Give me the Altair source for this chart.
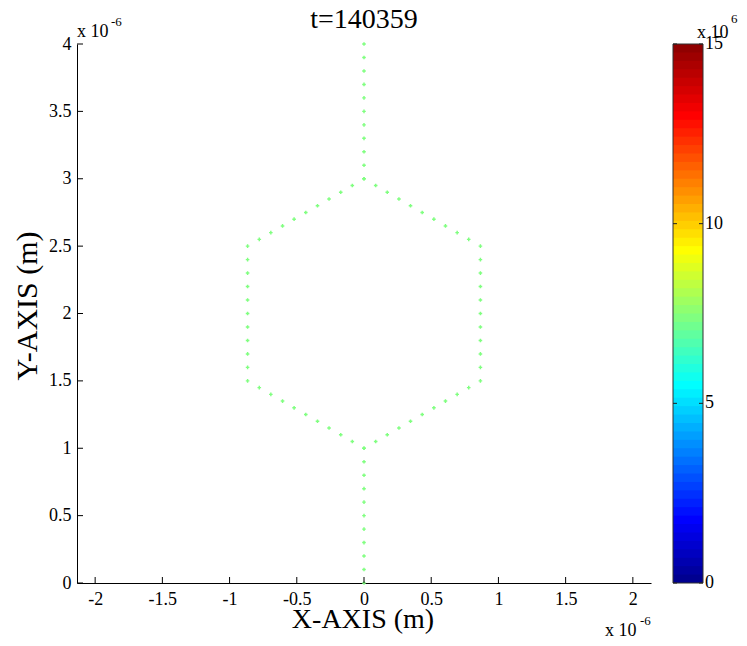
import altair as alt
import pandas as pd

# ---- data (x, y in units of 1e-6 m) ----
stem_x = [0.0, 0.0, 0.0, 0.0, 0.0, 0.0, 0.0, 0.0, 0.0, 0.0, 0.0,
          0.0, 0.0, 0.0, 0.0, 0.0, 0.0, 0.0, 0.0, 0.0, 0.0, 0.0]
stem_y = [0.0, 0.1, 0.2, 0.3, 0.4, 0.5, 0.6, 0.7, 0.8, 0.9, 1.0,
          3.0, 3.1, 3.2, 3.3, 3.4, 3.5, 3.6, 3.7, 3.8, 3.9, 4.0]

hex_x = [0.087, 0.173, 0.260, 0.346, 0.433, 0.520, 0.606, 0.693, 0.779, 0.866,
         0.866, 0.866, 0.866, 0.866, 0.866, 0.866, 0.866, 0.866, 0.866, 0.866,
         0.779, 0.693, 0.606, 0.520, 0.433, 0.346, 0.260, 0.173, 0.087, 0.000,
         -0.087, -0.173, -0.260, -0.346, -0.433, -0.520, -0.606, -0.693, -0.779, -0.866,
         -0.866, -0.866, -0.866, -0.866, -0.866, -0.866, -0.866, -0.866, -0.866, -0.866,
         -0.779, -0.693, -0.606, -0.520, -0.433, -0.346, -0.260, -0.173, -0.087, 0.000]
hex_y = [2.95, 2.90, 2.85, 2.80, 2.75, 2.70, 2.65, 2.60, 2.55, 2.50,
         2.40, 2.30, 2.20, 2.10, 2.00, 1.90, 1.80, 1.70, 1.60, 1.50,
         1.45, 1.40, 1.35, 1.30, 1.25, 1.20, 1.15, 1.10, 1.05, 1.00,
         1.05, 1.10, 1.15, 1.20, 1.25, 1.30, 1.35, 1.40, 1.45, 1.50,
         1.60, 1.70, 1.80, 1.90, 2.00, 2.10, 2.20, 2.30, 2.40, 2.50,
         2.55, 2.60, 2.65, 2.70, 2.75, 2.80, 2.85, 2.90, 2.95, 3.00]

x_ticks = [-2, -1.5, -1, -0.5, 0, 0.5, 1, 1.5, 2]
y_ticks = [0, 0.5, 1, 1.5, 2, 2.5, 3, 3.5, 4]
cbar_ticks = [0, 5, 10, 15]          # units of 1e6
cbar_max = 15
n_bands = 64
jet_stops = [0, 7, 23, 39, 55, 63]
jet_colors = ["#000090", "#0000ff", "#00ffff", "#ffff00", "#ff0000", "#900000"]

title_text = "t=140359"
x_title = "X-AXIS (m)"
y_title = "Y-AXIS (m)"

FONT = "Liberation Serif"
W, H = 574, 539

pts = pd.DataFrame({"x": stem_x + hex_x, "y": stem_y + hex_y})
xt = pd.DataFrame({"x": x_ticks})
yt = pd.DataFrame({"y": y_ticks})

X_enc = alt.X("x:Q", scale=alt.Scale(domain=[-2.135, 2.135], nice=False, zero=False),
              axis=alt.Axis(values=x_ticks, ticks=False, grid=False, title=None,
                            labelExpr="'' + datum.value", labelFont=FONT, labelFontSize=18,
                            labelColor="black", labelPadding=7, domainColor="black",
                            labelFlush=False))
Y_enc = alt.Y("y:Q", scale=alt.Scale(domain=[0, 4], nice=False, zero=False),
              axis=alt.Axis(values=y_ticks, ticks=False, grid=False, title=None,
                            labelExpr="'' + datum.value", labelFont=FONT, labelFontSize=18,
                            labelColor="black", labelPadding=6, domainColor="black",
                            labelFlush=False))

points = alt.Chart(pts).mark_point(shape="cross", filled=True, size=13, opacity=1,
                                   color="#80ff80").encode(x=X_enc, y=Y_enc)

ytick_rules = alt.Chart(yt).mark_rule(color="black", strokeWidth=1).encode(
    y=Y_enc, x=alt.value(0), x2=alt.value(6))
xtick_rules = alt.Chart(xt).mark_rule(color="black", strokeWidth=1).encode(
    x=X_enc, y=alt.value(H), y2=alt.value(H - 6))


def label(txt, px, py, size, align="left", angle=0):
    return alt.Chart(pd.DataFrame({"t": [txt]})).mark_text(
        font=FONT, fontSize=size, color="black", align=align,
        baseline="alphabetic", angle=angle).encode(
        x=alt.value(px), y=alt.value(py), text="t:N")


main = alt.layer(
    points, ytick_rules, xtick_rules,
    label(title_text, 287, -16, 28, "center"),
    label(x_title, 286, 584, 28, "center"),
    label(y_title, -40, 262, 30, "center", 270),
    label("x 10", 0, -7, 18),
    label("-6", 34, -18, 13),
    label("x 10", 528, 592, 18),
    label("-6", 563, 581, 13),
).properties(width=W, height=H)

# ---- colorbar ----
band_idx = list(range(n_bands))
bands = pd.DataFrame({
    "i": band_idx,
    "lo": [k * cbar_max / n_bands for k in band_idx],
    "hi": [min((k + 1) * cbar_max / n_bands + 0.03, cbar_max) for k in band_idx],
})
CY = alt.Y("lo:Q", scale=alt.Scale(domain=[0, cbar_max], nice=False, zero=False), axis=None)
band_layer = alt.Chart(bands).mark_rect(strokeWidth=0).encode(
    y=CY, y2="hi:Q", x=alt.value(0), x2=alt.value(30),
    color=alt.Color("i:Q", scale=alt.Scale(domain=jet_stops, range=jet_colors,
                                           interpolate="rgb"), legend=None))
outline = alt.Chart(pd.DataFrame({"lo": [0], "hi": [cbar_max]})).mark_rect(
    filled=False, stroke="#303030", strokeWidth=1).encode(
    y=CY, y2="hi:Q", x=alt.value(0), x2=alt.value(30))
ct = pd.DataFrame({"lo": cbar_ticks, "lab": [str(v) for v in cbar_ticks]})
ctick_l = alt.Chart(ct).mark_rule(color="#202020").encode(y=CY, x=alt.value(0), x2=alt.value(4))
ctick_r = alt.Chart(ct).mark_rule(color="#202020").encode(y=CY, x=alt.value(26), x2=alt.value(30))
ctext = alt.Chart(ct).mark_text(font=FONT, fontSize=18, color="black", align="left",
                                baseline="middle").encode(y=CY, x=alt.value(32), text="lab:N")

cbar = alt.layer(
    band_layer, outline, ctick_l, ctick_r, ctext,
    label("x 10", 24, -6, 18),
    label("6", 58, -21, 13),
).properties(width=30, height=H)

chart = alt.hconcat(main, cbar, spacing=22, bounds="flush").properties(
    padding={"left": 5, "top": -2, "right": 0, "bottom": 0}
).configure_view(stroke=None)

chart.save("out.html", embed_options={"renderer": "svg", "actions": False})
